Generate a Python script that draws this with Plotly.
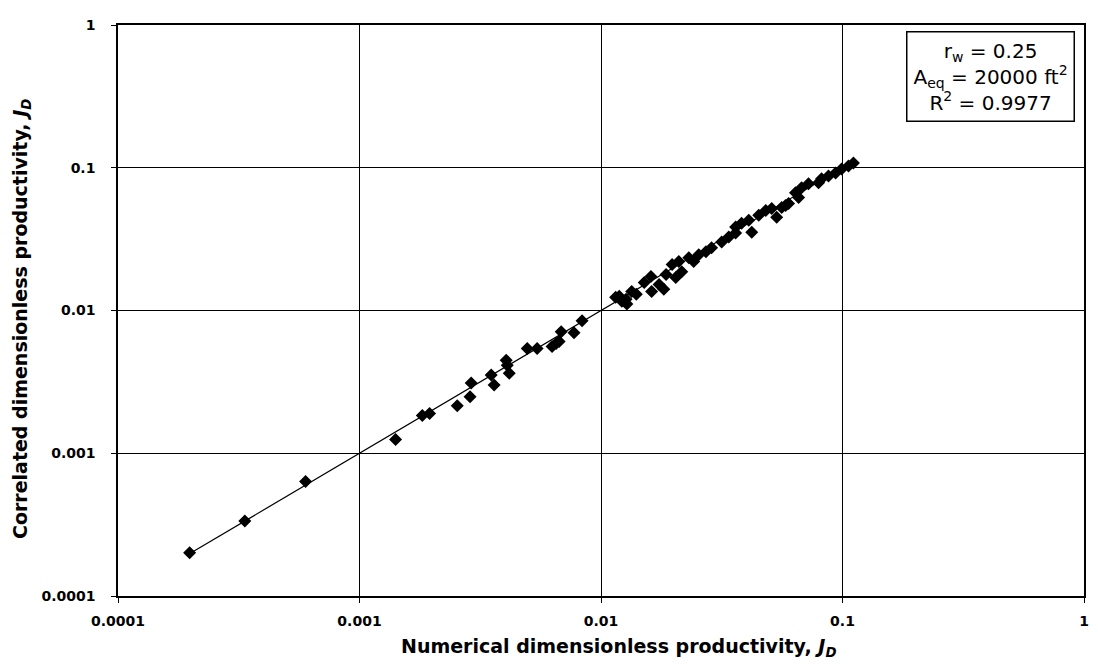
import plotly.graph_objects as go

# Numerical (x) vs correlated (y) dimensionless productivity
jd_numerical = [
    0.000198, 0.000335, 0.000598, 0.00141, 0.00182, 0.00195, 0.00254, 0.00287,
    0.0029, 0.00361, 0.00351, 0.00405, 0.00417, 0.00409, 0.00495, 0.00544,
    0.00627, 0.00652, 0.00671, 0.00684, 0.00773, 0.00835,
    0.0115, 0.0119, 0.0122, 0.0127, 0.0128, 0.0134, 0.0140, 0.0151,
    0.0161, 0.0162, 0.0174, 0.0182, 0.0186, 0.0197, 0.0204, 0.0210, 0.0216,
    0.0231, 0.0242, 0.0254, 0.0272, 0.0287, 0.0316, 0.0338, 0.0361, 0.0361,
    0.0382, 0.0409, 0.0421, 0.0450, 0.0481, 0.0509, 0.0534, 0.0560, 0.0581,
    0.0598, 0.0639, 0.0658, 0.0677, 0.0723, 0.0796, 0.0819, 0.0875, 0.0936,
    0.0991, 0.1059, 0.111,
]
jd_correlated = [
    0.000201, 0.000335, 0.000633, 0.00125, 0.00184, 0.0019, 0.00215, 0.00249,
    0.00311, 0.00301, 0.00353, 0.00448, 0.00364, 0.00414, 0.00542, 0.00542,
    0.0056, 0.00587, 0.00606, 0.0071, 0.00699, 0.00846,
    0.0124, 0.0126, 0.0116, 0.0120, 0.0111, 0.0136, 0.0130, 0.0157,
    0.0173, 0.0136, 0.0152, 0.0141, 0.0179, 0.0210, 0.0170, 0.0220, 0.0187,
    0.0234, 0.0220, 0.0246, 0.0258, 0.0275, 0.0302, 0.0327, 0.0349, 0.0384,
    0.0409, 0.0429, 0.0354, 0.0464, 0.0502, 0.0519, 0.0450, 0.0527, 0.0544,
    0.0562, 0.0669, 0.0618, 0.0725, 0.0772, 0.0785, 0.0836, 0.0877, 0.092,
    0.098, 0.1028, 0.1079,
]
fit_line = [0.0002, 0.11]
tick_vals = [0.0001, 0.001, 0.01, 0.1, 1]
tick_text = ["0.0001", "0.001", "0.01", "0.1", "1"]
x_title = "<b>Numerical dimensionless productivity, <i>J<sub>D</sub></i></b>"
y_title = "<b>Correlated dimensionless productivity, <i>J<sub>D</sub></i></b>"
box_text = "r<sub>w</sub> = 0.25<br>A<sub>eq</sub> = 20000 ft<sup>2</sup><br>R<sup>2</sup> = 0.9977"

FONT = "DejaVu Sans"

fig = go.Figure()
fig.add_trace(go.Scatter(
    x=jd_numerical, y=jd_correlated, mode="markers",
    marker=dict(symbol="diamond", size=10, color="black"),
    showlegend=False,
))
fig.add_trace(go.Scatter(
    x=fit_line, y=fit_line, mode="lines",
    line=dict(color="black", width=1.2), showlegend=False,
))

axis_common = dict(
    type="log", range=[-4, 0], tickvals=tick_vals, ticktext=tick_text,
    showgrid=True, gridcolor="black", gridwidth=1,
    showline=True, linecolor="black", linewidth=1.5, mirror=True,
    ticks="outside", ticklen=5, tickcolor="black",
    tickfont=dict(family=FONT, size=14, color="black", weight="bold"),
    zeroline=False,
)
fig.update_xaxes(**axis_common, ticklabelstandoff=6)
fig.update_yaxes(**axis_common, ticklabelstandoff=13)

fig.add_annotation(
    xref="paper", yref="paper", x=0.5176, y=-0.0898, xanchor="center", yanchor="middle",
    text=x_title, showarrow=False,
    font=dict(family=FONT, size=19, color="black"),
)
fig.add_annotation(
    xref="paper", yref="paper", x=-0.0992, y=0.4853, xanchor="center", yanchor="middle",
    text=y_title, showarrow=False, textangle=-90,
    font=dict(family=FONT, size=19, color="black"),
)
fig.add_annotation(
    xref="paper", yref="paper", x=0.9907, y=0.989, xanchor="right", yanchor="top",
    text=box_text, showarrow=False, align="center",
    font=dict(family=FONT, size=20, color="black"),
    bordercolor="black", borderwidth=1.5, borderpad=6, bgcolor="white",
)

# page body adds 8px margin, so the figure is slightly smaller than the window
fig.update_layout(
    width=1090, height=663,
    margin=dict(l=110, r=12, t=9, b=75),
    plot_bgcolor="white", paper_bgcolor="white",
)
fig.write_html("out.html")
